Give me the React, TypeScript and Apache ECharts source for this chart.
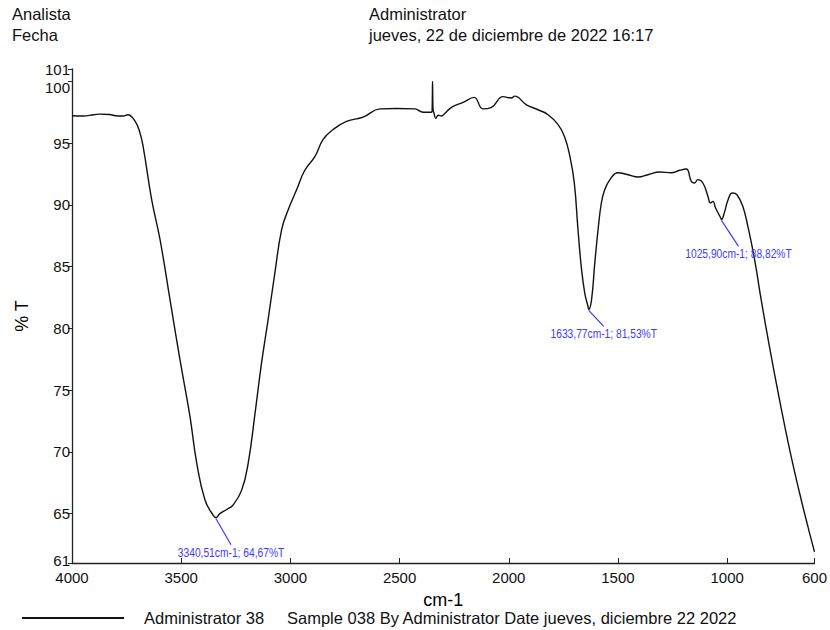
import React, { useEffect, useRef } from "react";
import * as echarts from "echarts";

const waveNumbers = [
  4000, 3950, 3900, 3870, 3830, 3790, 3765, 3745, 3712, 3690, 3674, 3635, 3597, 3551, 3506, 3460,
  3429, 3391, 3353, 3340.51, 3323, 3290, 3262, 3223, 3193, 3162, 3132, 3102, 3071, 3040, 3010,
  2972, 2934, 2888, 2850, 2804, 2743, 2667, 2590, 2514, 2430, 2392, 2355, 2351, 2349, 2347, 2342,
  2334, 2323, 2308, 2293, 2262, 2209, 2159, 2118, 2079, 2026, 1988, 1973, 1919, 1866, 1820, 1774,
  1744, 1721, 1700, 1683, 1668, 1652, 1637, 1633.77, 1621, 1606, 1591, 1576, 1561, 1538, 1500,
  1454, 1408, 1363, 1309, 1256, 1217, 1187, 1164, 1149, 1134, 1111, 1088, 1077, 1065, 1053, 1031,
  1025.9, 1011, 996, 976, 955, 928, 905, 874, 844, 806, 760, 714, 668, 630, 600,
];
const transmittance = [
  97.22, 97.2, 97.3, 97.35, 97.32, 97.2, 97.2, 97.3, 96.8, 95.9, 94.7, 90.4, 87.2, 82.3, 77.5, 72.9,
  69.1, 66.1, 64.85, 64.67, 65.0, 65.35, 65.7, 66.9, 69.1, 73.1, 77.2, 80.7, 84.5, 88.0, 89.6,
  91.2, 92.8, 93.9, 95.3, 96.1, 96.76, 97.1, 97.77, 97.8, 97.77, 97.5, 97.5, 97.6, 100.0, 97.8, 97.4,
  97.0, 97.25, 97.2, 97.4, 97.9, 98.3, 98.7, 97.77, 97.9, 98.76, 98.65, 98.8, 98.1, 97.7, 97.3, 96.5,
  95.5, 94.0, 91.8, 88.0, 85.0, 82.85, 81.77, 81.53, 82.3, 85.3, 88.0, 90.15, 91.2, 92.0, 92.6,
  92.44, 92.25, 92.44, 92.66, 92.6, 92.8, 92.9, 91.9, 91.77, 92.04, 91.77, 90.7, 90.15, 90.28, 89.74, 89.0,
  88.82, 89.47, 90.4, 90.96, 90.82, 89.87, 88.25, 85.55, 82.3, 78.5, 74.2, 70.2, 66.65, 63.94, 61.9,
];

const peakWavenumbers = [3340.51, 1633.77, 1025.9];
const peakTransmittance = [64.67, 81.53, 88.82];

const xTicks = [4000, 3500, 3000, 2500, 2000, 1500, 1000, 600];
const yTicks = [61, 65, 70, 75, 80, 85, 90, 95, 100, 101];

const seriesName = "Administrator 38";
const sampleText = "Sample 038 By Administrator Date jueves, diciembre 22 2022";
const headerLeft = ["Analista", "Fecha"];
const headerRight = ["Administrator", "jueves, 22 de diciembre de 2022 16:17"];

const SANS = "'Liberation Sans', Arial, sans-serif";
const BLUE = "#3c3cff";

const fmt = (v: number) => v.toFixed(2).replace(".", ",");

export default function App() {
  const ref = useRef<HTMLDivElement>(null);
  useEffect(() => {
    if (!ref.current) return;
    const chart = echarts.init(ref.current, undefined, { renderer: "svg" });
    const leaderDy = [27, 17, 27];
    const leaderDx = [15, 15, 17];
    const option: any = {
      animation: false,
      backgroundColor: "#fff",
      grid: { left: 72, right: 15, top: 69, bottom: 67 },
      xAxis: {
        type: "value",
        inverse: true,
        min: 600,
        max: 4000,
        name: "cm-1",
        nameLocation: "middle",
        nameGap: 28,
        nameTextStyle: { fontFamily: SANS, fontSize: 18, color: "#000" },
        axisLine: { show: true, lineStyle: { color: "#222", width: 1.3 } },
        axisTick: { show: true, inside: true, length: 5, customValues: xTicks, lineStyle: { color: "#222" } },
        axisLabel: {
          customValues: xTicks,
          formatter: (v: number) => String(v),
          fontFamily: SANS,
          fontSize: 15,
          color: "#111",
          margin: 7,
          showMinLabel: true,
          showMaxLabel: true,
        },
        splitLine: { show: false },
      },
      yAxis: {
        type: "value",
        min: 61,
        max: 101,
        name: "% T",
        nameLocation: "middle",
        nameGap: 41,
        nameTextStyle: { fontFamily: SANS, fontSize: 18, color: "#000" },
        axisLine: { show: true, lineStyle: { color: "#222", width: 1.3 } },
        axisTick: { show: true, inside: false, length: 4, customValues: yTicks, lineStyle: { color: "#222" } },
        axisLabel: {
          customValues: yTicks,
          fontFamily: SANS,
          fontSize: 15,
          color: "#111",
          margin: 2,
          showMinLabel: true,
          showMaxLabel: true,
          formatter: (v: number) => (v === 100 ? "{d|100}" : v === 61 ? "{u|61}" : String(v)),
          rich: {
            d: { fontFamily: SANS, fontSize: 15, color: "#111", padding: [12, 0, 0, 0] },
            u: { fontFamily: SANS, fontSize: 15, color: "#111", lineHeight: 13, padding: [0, 0, 6, 0] },
          },
        },
        splitLine: { show: false },
      },
      series: [
        {
          name: seriesName,
          type: "line",
          data: waveNumbers.map((w, i) => [w, transmittance[i]]),
          showSymbol: false,
          smooth: 0.45,
          lineStyle: { color: "#111", width: 1.4 },
          z: 3,
        },
        {
          type: "custom",
          data: peakWavenumbers.map((w, i) => [w, peakTransmittance[i]]),
          encode: { x: 0, y: 1 },
          clip: false,
          z: 4,
          renderItem: (params: any, api: any) => {
            const w = api.value(0);
            const t = api.value(1);
            const p = api.coord([w, t]);
            const i = params.dataIndex;
            const ex = p[0] + leaderDx[i];
            const ey = p[1] + leaderDy[i];
            return {
              type: "group",
              children: [
                {
                  type: "line",
                  shape: { x1: p[0], y1: p[1] + 1, x2: ex, y2: ey },
                  style: { stroke: BLUE, lineWidth: 1.2 },
                },
                {
                  type: "text",
                  x: ex,
                  y: ey + 1,
                  scaleX: 0.82,
                  style: {
                    text: `${fmt(w)}cm-1; ${fmt(t)}%T`,
                    fill: BLUE,
                    font: `12.5px ${SANS}`,
                    textAlign: "center",
                    textVerticalAlign: "top",
                  },
                },
              ],
            };
          },
        },
      ],
      graphic: [
        { type: "text", left: 12, top: 5, style: { text: headerLeft[0], font: `16.5px ${SANS}`, fill: "#111" } },
        { type: "text", left: 12, top: 26, style: { text: headerLeft[1], font: `16.5px ${SANS}`, fill: "#111" } },
        { type: "text", left: 369, top: 5, style: { text: headerRight[0], font: `16.5px ${SANS}`, fill: "#111" } },
        { type: "text", left: 369, top: 26, style: { text: headerRight[1], font: `16.5px ${SANS}`, fill: "#111" } },
        { type: "line", shape: { x1: 22, y1: 618, x2: 124, y2: 618 }, style: { stroke: "#111", lineWidth: 2 } },
        { type: "text", left: 144, top: 609, style: { text: seriesName, font: `16.5px ${SANS}`, fill: "#111" } },
        { type: "text", left: 287, top: 609, style: { text: sampleText, font: `16.5px ${SANS}`, fill: "#111" } },
      ],
    };
    chart.setOption(option);
    return () => chart.dispose();
  }, []);
  return <div ref={ref} style={{ position: "fixed", left: 0, top: 0, width: 830, height: 630 }} />;
}
